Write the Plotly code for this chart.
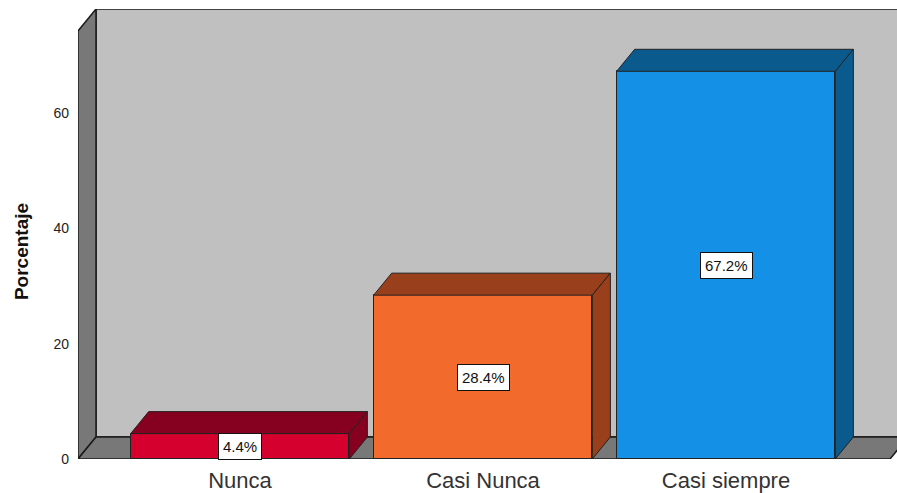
import plotly.graph_objects as go

# Data
categories = ["Nunca", "Casi Nunca", "Casi siempre"]
percentages = [4.4, 28.4, 67.2]
y_ticks = [0, 20, 40, 60]

# Face colours per bar: front, top/side
front_colors = ["#D5002D", "#F26A2C", "#1490E6"]
shade_colors = ["#86001F", "#9A3F1B", "#0B5A8D"]

# Axis ranges and 3D depth offsets (in data units)
X_MIN, X_MAX = -0.6667, 2.7037
Y_MAX = 78.0
DX = 18 / 243
DY = 22 * Y_MAX / 450
BAR_W = 0.9

# Frame (walls + floor) extents
FX0 = X_MIN
FX1 = 2.675
FY1 = Y_MAX - DY

fig = go.Figure()

# Front faces of the bars
fig.add_trace(go.Bar(
    x=list(range(len(categories))),
    y=percentages,
    width=BAR_W,
    marker=dict(color=front_colors, line=dict(color="#222222", width=1)),
    hoverinfo="skip",
    showlegend=False,
))

# Top and side faces of each bar
for i, (v, sc) in enumerate(zip(percentages, shade_colors)):
    xl, xr = i - BAR_W / 2, i + BAR_W / 2
    top_x = [xl, xr, xr + DX, xl + DX, xl]
    top_y = [v, v, v + DY, v + DY, v]
    side_x = [xr, xr + DX, xr + DX, xr, xr]
    side_y = [0, DY, v + DY, v, 0]
    for px, py in ((top_x, top_y), (side_x, side_y)):
        fig.add_trace(go.Scatter(
            x=px, y=py, mode="lines", fill="toself", fillcolor=sc,
            line=dict(color="#222222", width=1),
            hoverinfo="skip", showlegend=False,
        ))

# Walls and floor drawn beneath the bars
wall_line = dict(color="#1a1a1a", width=1.5)
shapes = [
    # back wall
    dict(type="path", xref="x", yref="y", layer="below",
         path=f"M {FX0+DX},{DY} L {FX1+DX},{DY} L {FX1+DX},{Y_MAX} L {FX0+DX},{Y_MAX} Z",
         fillcolor="#C0C0C0", line=wall_line),
    # left wall
    dict(type="path", xref="x", yref="y", layer="below",
         path=f"M {FX0},0 L {FX0},{FY1} L {FX0+DX},{Y_MAX} L {FX0+DX},{DY} Z",
         fillcolor="#787878", line=wall_line),
    # floor
    dict(type="path", xref="x", yref="y", layer="below",
         path=f"M {FX0},0 L {FX1},0 L {FX1+DX},{DY} L {FX0+DX},{DY} Z",
         fillcolor="#787878", line=wall_line),
]

# Value labels
annotations = [
    dict(x=i, y=v / 2, xref="x", yref="y", text=f"{v}%", showarrow=False,
         bgcolor="white", bordercolor="#111111", borderwidth=1, borderpad=4,
         font=dict(family="Liberation Sans, Arial, sans-serif", size=15, color="#111111"))
    for i, v in enumerate(percentages)
]
annotations.append(dict(
    x=-0.0696, y=0.462, xref="paper", yref="paper", text="<b>Porcentaje</b>",
    textangle=-90, showarrow=False, xanchor="center", yanchor="middle",
    font=dict(family="Liberation Sans, Arial, sans-serif", size=19, color="#111111"),
))

fig.update_layout(
    width=897, height=493,
    margin=dict(l=78, r=0, t=9, b=34),
    paper_bgcolor="white", plot_bgcolor="white",
    shapes=shapes, annotations=annotations,
    bargap=0,
    font=dict(family="Liberation Sans, Arial, sans-serif", color="#222222"),
    xaxis=dict(range=[X_MIN, X_MAX], tickvals=list(range(len(categories))),
               ticktext=categories, showgrid=False, zeroline=False, showline=False,
               ticks="", ticklabelstandoff=6, tickfont=dict(size=22, color="#333333")),
    yaxis=dict(range=[0, Y_MAX], tickvals=y_ticks, showgrid=False, zeroline=False,
               showline=False, ticks="", ticklabelstandoff=8,
               tickfont=dict(size=14, color="#222222")),
)

fig.write_html("out.html")
